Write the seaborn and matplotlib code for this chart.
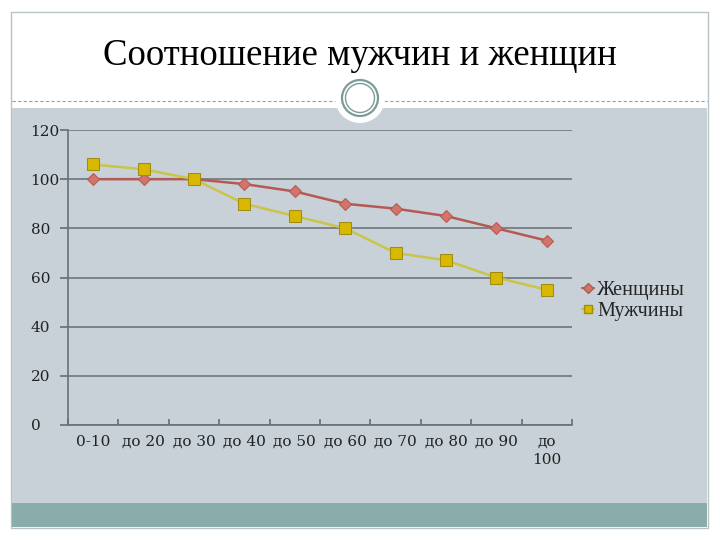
import matplotlib
matplotlib.use("Agg")
import matplotlib.pyplot as plt
import matplotlib.patches as mpatches
import matplotlib.lines as mlines
from matplotlib.patches import Ellipse
import seaborn as sns
import pandas as pd

categories = ["0-10", "до 20", "до 30", "до 40", "до 50", "до 60", "до 70", "до 80", "до 90", "до\n100"]
women = [100, 100, 100, 98, 95, 90, 88, 85, 80, 75]
men = [106, 104, 100, 90, 85, 80, 70, 67, 60, 55]
series_names = ["Женщины", "Мужчины"]
title = "Соотношение мужчин и женщин"

sns.set_theme(style="white")
plt.rcParams["font.family"] = ["Liberation Serif", "DejaVu Serif"]

df = pd.DataFrame({
    "pos": list(range(len(categories))) * 2,
    "value": women + men,
    "series": [series_names[0]] * len(women) + [series_names[1]] * len(men),
})

fig = plt.figure(figsize=(7.2, 5.4), dpi=100)
fig.patch.set_facecolor("white")

W, H = 720, 540
def fx(x): return x / W
def fy(y): return 1 - y / H

fig.patches.append(mpatches.Rectangle((fx(11), fy(528)), fx(708) - fx(11), fy(12) - fy(528),
                                      transform=fig.transFigure, facecolor="white", edgecolor="#b9c2c6", lw=1, zorder=-5))
fig.patches.append(mpatches.Rectangle((fx(12), fy(503)), fx(707) - fx(12), fy(108) - fy(503),
                                      transform=fig.transFigure, facecolor="#c8d1d7", edgecolor="none", zorder=-4))
fig.patches.append(mpatches.Rectangle((fx(12), fy(527)), fx(707) - fx(12), fy(503) - fy(527),
                                      transform=fig.transFigure, facecolor="#8aacaa", edgecolor="none", zorder=-4))
fig.lines.append(mlines.Line2D([fx(12), fx(707)], [fy(101), fy(101)], transform=fig.transFigure,
                               color="#9aa0a3", lw=0.8, ls=(0, (3, 2)), zorder=-3))
cx, cy = fx(360), fy(98)
fig.patches.append(Ellipse((cx, cy), 50 / W, 50 / H, transform=fig.transFigure, facecolor="white", edgecolor="none", zorder=-2))
fig.patches.append(Ellipse((cx, cy), 36 / W, 36 / H, transform=fig.transFigure, facecolor="white", edgecolor="#7e9a98", lw=1.6, zorder=-1))
fig.patches.append(Ellipse((cx, cy), 29 / W, 29 / H, transform=fig.transFigure, facecolor="white", edgecolor="#7e9a98", lw=1.0, zorder=-1))

fig.text(0.5, fy(56), title, ha="center", va="center", fontsize=26.5, color="black")

ax = fig.add_axes([fx(68), fy(425), fx(572) - fx(68), fy(130) - fy(425)])
ax.set_zorder(5)
ax.set_facecolor("none")

palette = {series_names[0]: "#b45a52", series_names[1]: "#c9c44a"}
markers = {series_names[0]: "D", series_names[1]: "s"}
sns.lineplot(data=df, x="pos", y="value", hue="series", style="series", palette=palette,
             markers=markers, dashes=False, ax=ax, lw=1.8, legend=False, zorder=3)
for line, name in zip(ax.get_lines(), series_names):
    if name == series_names[0]:
        line.set_markerfacecolor("#d4736b"); line.set_markeredgecolor("#b05a52"); line.set_markersize(6)
    else:
        line.set_markerfacecolor("#d8b800"); line.set_markeredgecolor("#a08c10"); line.set_markersize(8)

tick_font = dict(family="DejaVu Serif", size=11)
ax.set_xlim(-0.5, len(categories) - 0.5)
ax.set_ylim(0, 120)
ax.set_yticks(range(0, 121, 20))
ax.set_xticks([i - 0.5 for i in range(len(categories) + 1)])
ax.set_xticklabels([])
for i, c in enumerate(categories):
    ax.text(i, -4, c, ha="center", va="top", fontfamily="DejaVu Serif", fontsize=11, color="#222222",
            transform=ax.transData, linespacing=1.35)
ax.tick_params(axis="x", which="major", length=4, color="#6a7075", direction="in", bottom=True)
ax.tick_params(axis="y", length=6, color="#6a7075", labelcolor="#222222", left=True, pad=21)
for lbl in ax.get_yticklabels():
    lbl.set_fontfamily("DejaVu Serif")
    lbl.set_fontsize(11)
    lbl.set_horizontalalignment("left")
ax.yaxis.grid(True, color="#6e767c", lw=1.2)
ax.set_axisbelow(True)
for s in ["top", "right"]:
    ax.spines[s].set_visible(False)
for s in ["left", "bottom"]:
    ax.spines[s].set_color("#6a7075")
    ax.spines[s].set_linewidth(1.2)
ax.set_xlabel("")
ax.set_ylabel("")

handles = [
    mlines.Line2D([], [], color="#b45a52", marker="D", markerfacecolor="#d4736b", markeredgecolor="#b05a52", markersize=5, lw=1.5),
    mlines.Line2D([], [], color="#c9c44a", marker="s", markerfacecolor="#d8b800", markeredgecolor="#a08c10", markersize=6, lw=1.5),
]
fig.legend(handles, series_names, loc="center left", bbox_to_anchor=(fx(582), fy(301)), frameon=False,
           fontsize=14.5, handlelength=0.6, handletextpad=0.15, labelspacing=0.05, borderpad=0, borderaxespad=0)

fig.savefig("out.png", dpi=100, facecolor="white")
